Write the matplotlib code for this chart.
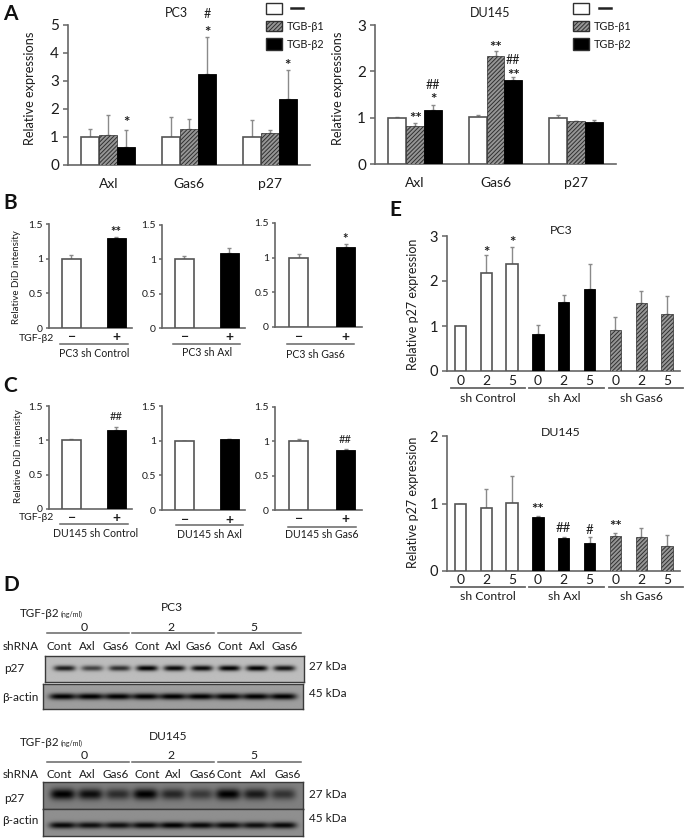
import numpy as np
import matplotlib
matplotlib.use("Agg")
from matplotlib import pyplot as plt
from matplotlib.patches import Rectangle
from matplotlib.lines import Line2D

W, H = 685, 838
plt.rcParams['font.family'] = ['Lato', 'DejaVu Sans']
plt.rcParams['hatch.linewidth'] = 0.7
TXT = '#1c1c1c'
AXC = '#666666'
WHITE_EDGE = '#555555'
HATCH_FC = '#969696'

# panel A
genes = ['Axl', 'Gas6', 'p27']
pc3_none = [1.0, 1.0, 1.0]
pc3_none_err = [0.27, 0.73, 0.62]
pc3_b1 = [1.08, 1.27, 1.13]
pc3_b1_err = [0.70, 0.38, 0.12]
pc3_b2 = [0.63, 3.25, 2.36]
pc3_b2_err = [0.62, 1.32, 1.05]
du_none = [1.0, 1.02, 1.0]
du_none_err = [0.01, 0.03, 0.06]
du_b1 = [0.82, 2.33, 0.92]
du_b1_err = [0.06, 0.10, 0.01]
du_b2 = [1.17, 1.82, 0.90]
du_b2_err = [0.10, 0.05, 0.04]

# panel B, C  (minus, plus)
b_names = ['PC3 sh Control', 'PC3 sh Axl', 'PC3 sh Gas6']
b_vals = [[1.0, 1.30], [1.0, 1.09], [1.0, 1.15]]
b_errs = [[0.05, 0.01], [0.05, 0.07], [0.05, 0.04]]
c_names = ['DU145 sh Control', 'DU145 sh Axl', 'DU145 sh Gas6']
c_vals = [[1.0, 1.15], [1.0, 1.02], [1.0, 0.88]]
c_errs = [[0.02, 0.04], [0.0, 0.0], [0.04, 0.01]]

# panel E
doses = ['0', '2', '5'] * 3
groups = ['sh Control', 'sh Axl', 'sh Gas6']
e_pc3 = [1.0, 2.18, 2.38, 0.82, 1.53, 1.83, 0.90, 1.50, 1.26]
e_pc3_err = [0.0, 0.40, 0.38, 0.20, 0.16, 0.55, 0.29, 0.28, 0.40]
e_du = [1.0, 0.94, 1.01, 0.80, 0.49, 0.41, 0.52, 0.51, 0.37]
e_du_err = [0.0, 0.28, 0.40, 0.01, 0.02, 0.09, 0.05, 0.13, 0.16]

# panel D, band strength per lane
lanes = ['Cont', 'Axl', 'Gas6'] * 3
pc3_p27_band = [0.85, 0.65, 0.75, 1.0, 0.95, 0.95, 1.0, 1.0, 0.9]
pc3_act_band = [1.0, 1.0, 1.0, 1.0, 1.0, 1.0, 1.0, 1.0, 1.0]
du_p27_band = [1.0, 0.9, 0.65, 1.0, 0.7, 0.55, 1.0, 0.8, 0.6]
du_act_band = [0.95, 0.9, 0.9, 0.95, 1.0, 0.95, 0.95, 0.9, 0.95]

fig = plt.figure(figsize=(W / 100, H / 100), dpi=100, facecolor='white')


def make_ax(x0, x1, y0, y1):
    # pixel box from the top left corner of the picture
    ax = fig.add_axes([x0 / W, 1 - y0 / H, (x1 - x0) / W, (y0 - y1) / H])
    ax.patch.set_alpha(0)
    for s in ['top', 'right']:
        ax.spines[s].set_visible(False)
    for s in ['left', 'bottom']:
        ax.spines[s].set_color(AXC)
        ax.spines[s].set_linewidth(1.2)
    ax.tick_params(axis='y', color=AXC, width=1.1, length=3.5, pad=3, labelcolor=TXT)
    ax.set_xticks([])
    return ax


def txt(x, y, s, size=9, ha='center', va='center', **kw):
    kw.setdefault('color', TXT)
    return fig.text(x / W, 1 - y / H, s, fontsize=size, ha=ha, va=va, **kw)


def letter(x, y, s):
    fig.text(x / W, 1 - y / H, s, fontsize=15, fontweight='bold', color='#111111', ha='left', va='center')


def hline(x0, x1, y, color=AXC, lw=1.1):
    fig.add_artist(Line2D([x0 / W, x1 / W], [1 - y / H, 1 - y / H], color=color, lw=lw))


def mark(ax, x, y, s, star_size, hash_size):
    # significance marks, stars are bold in the figure and hashes are not
    if '*' in s:
        ax.text(x, y, s, ha='center', va='center', fontsize=star_size, fontweight='bold', color=TXT, clip_on=False)
    else:
        ax.text(x, y, s, ha='center', va='center', fontsize=hash_size, color=TXT, clip_on=False)


def bars(ax, x, vals, errs, style, width):
    if style == 'white':
        kw = dict(facecolor='white', edgecolor=WHITE_EDGE, linewidth=1.2)
    elif style == 'black':
        kw = dict(facecolor='black', edgecolor='black', linewidth=0.6)
    else:
        kw = dict(facecolor=HATCH_FC, edgecolor='#303030', hatch='////////', linewidth=0.5)
    ax.bar(x, vals, width, zorder=3, **kw)
    ax.errorbar(x, vals, yerr=[np.zeros(len(vals)), errs], fmt='none', ecolor='#8a8a8a',
                elinewidth=1.0, capsize=1.6, capthick=1.0, zorder=2)


# A
def panel_a(box, title, title_x, ymax, sets, marks):
    ax = make_ax(*box)
    x = np.arange(3)
    w = 0.223
    styles = ['white', 'hatch', 'black']
    for i, (v, e) in enumerate(sets):
        bars(ax, x + (i - 1) * w, v, e, styles[i], w)
    ax.set_xlim(-0.5, 2.5)
    ax.set_ylim(0, ymax)
    ax.set_yticks(range(ymax + 1))
    ax.tick_params(axis='y', labelsize=11)
    for g, s, y in marks:
        mark(ax, g, y, s, 11, 9)
    for i, g in enumerate(genes):
        ax.text(i, -0.137 * ymax, g, ha='center', va='center', fontsize=10, color=TXT)
    txt(title_x, 13, title, size=9)


panel_a((68, 310, 165, 25), 'PC3', 176, 5,
        [(pc3_none, pc3_none_err), (pc3_b1, pc3_b1_err), (pc3_b2, pc3_b2_err)],
        [(0.223, '*', 1.5), (1.223, '#', 5.4), (1.223, '*', 4.7), (2.223, '*', 3.55)])
panel_a((375, 616, 164, 25), 'DU145', 490, 3,
        [(du_none, du_none_err), (du_b1, du_b1_err), (du_b2, du_b2_err)],
        [(0, '**', 0.97), (0.223, '##', 1.7), (0.223, '*', 1.38),
         (1, '**', 2.5), (1.223, '##', 2.24), (1.223, '**', 1.91)])

letter(3, 14, 'A')
txt(30, 88, 'Relative expressions', size=9.2, rotation=90)
txt(338, 88, 'Relative expressions', size=9.2, rotation=90)


def legend_a(x0, x1, xt, xd):
    tops = [(3, 14), (21, 31), (38, 50)]
    fc = ['white', HATCH_FC, 'black']
    for (t, b), c in zip(tops, fc):
        hatch = '////////' if c == HATCH_FC else None
        fig.add_artist(Rectangle((x0 / W, 1 - b / H), (x1 - x0) / W, (b - t) / H,
                                 transform=fig.transFigure, facecolor=c, edgecolor='#303030',
                                 hatch=hatch, linewidth=1.0))
    hline(xd - 6, xd + 6, 8, color='#222222', lw=1.8)
    txt(xt, 27, 'TGB-β1', size=7.8, ha='left')
    txt(xt, 44, 'TGB-β2', size=7.8, ha='left')


legend_a(266, 282, 287, 297)
legend_a(573, 589, 594, 605)


# B and C
def small_panel(box, vals, errs, marks, name, name_x, name_y, line, mark_y):
    ax = make_ax(*box)
    bars(ax, [0], [vals[0]], [errs[0]], 'white', 0.42)
    bars(ax, [1], [vals[1]], [errs[1]], 'black', 0.42)
    ax.set_xlim(-0.5, 1.35)
    ax.set_ylim(0, 1.5)
    ax.set_yticks([0, 0.5, 1, 1.5])
    ax.set_yticklabels(['0', '0.5', '1', '1.5'])
    ax.tick_params(axis='y', labelsize=7.5, length=2.5, pad=2)
    for x, s, y in marks:
        mark(ax, x, y, s, 9.5, 8)
    for i, s in enumerate(['−', '+']):
        px = box[0] + (i + 0.5) / 1.85 * (box[1] - box[0])
        txt(px, mark_y, s, size=10, fontweight='bold')
    hline(line[0], line[1], line[2])
    txt(name_x, name_y, name, size=7.6)


small_panel((49, 132, 328, 224), b_vals[0], b_errs[0], [(1, '**', 1.39)],
            b_names[0], 94, 353, (60, 128, 344), 337)
small_panel((162, 245, 328, 225), b_vals[1], b_errs[1], [],
            b_names[1], 207, 352, (173, 240, 344), 337)
small_panel((275, 362, 327, 223), b_vals[2], b_errs[2], [(1, '*', 1.27)],
            b_names[2], 315, 354, (287, 354, 344), 337)
small_panel((49, 132, 509, 406), c_vals[0], c_errs[0], [(1, '##', 1.34)],
            c_names[0], 96, 533, (60, 128, 524), 518)
small_panel((162, 245, 510, 406), c_vals[1], c_errs[1], [],
            c_names[1], 209, 534, (176, 243, 525), 520)
small_panel((275, 362, 510, 407), c_vals[2], c_errs[2], [(1, '##', 1.02)],
            c_names[2], 322, 535, (288, 356, 527), 519)

letter(3, 203, 'B')
letter(3, 386, 'C')
txt(17, 277, 'Relative DiD intensity', size=7, rotation=90)
txt(19, 456, 'Relative DiD intensity', size=7, rotation=90)
txt(36, 338, 'TGF-β2', size=7.5)
txt(36, 518, 'TGF-β2', size=7.5)


# E
def panel_e(y0, y1, vals, errs, ymax, marks, title, title_y, tick_y, line_y, group_y):
    ax = make_ax(447, 680, y0, y1)
    x = np.arange(9)
    styles = ['white'] * 3 + ['black'] * 3 + ['hatch'] * 3
    for i in x:
        bars(ax, [i], [vals[i]], [errs[i]], styles[i], 0.44)
    ax.set_xlim(-0.52, 8.5)
    ax.set_ylim(0, ymax)
    ax.set_yticks(range(ymax + 1))
    ax.tick_params(axis='y', labelsize=10.5)
    for i, m, y in marks:
        mark(ax, i, y, m, 11, 9.5)
    step = 233 / 9.02
    for i, d in enumerate(doses):
        txt(447 + (i + 0.52) * step, tick_y, d, size=10)
    for (a, b), g, c in zip([(451, 525), (529, 604), (609, 683)], groups, [488, 564, 641]):
        hline(a, b, line_y, lw=1.3)
        txt(c, group_y, g, size=8.8)
    txt(561, title_y, title, size=8.8)


panel_e(371, 236, e_pc3, e_pc3_err, 3, [(1, '*', 2.63), (2, '*', 2.85)],
        'PC3', 231, 381, 388, 398)
panel_e(571, 436, e_du, e_du_err, 2,
        [(3, '**', 0.9), (4, '##', 0.64), (5, '#', 0.60), (6, '**', 0.65)],
        'DU145', 432, 580, 587, 597)
letter(389, 210, 'E')
txt(413, 304, 'Relative p27 expression', size=9, rotation=90)
txt(413, 502, 'Relative p27 expression', size=9, rotation=90)


# D
def blot(box, strengths, bg, band_y, band_h, band_w):
    x0, x1, y0, y1 = box
    ny, nx = 60, 400
    yy, xx = np.mgrid[0:1:ny * 1j, 0:1:nx * 1j]
    centres = np.linspace(0.075, 0.925, 9)
    img = np.full((ny, nx), bg)
    for c, s in zip(centres, strengths):
        band = s * np.exp(-((yy - band_y) / band_h) ** 2) * np.exp(-((xx - c) / band_w) ** 4)
        img = img - band * bg
    ax = fig.add_axes([x0 / W, 1 - y1 / H, (x1 - x0) / W, (y1 - y0) / H])
    ax.imshow(np.clip(img, 0, 1), cmap='gray', vmin=0, vmax=1, aspect='auto')
    ax.set_xticks([])
    ax.set_yticks([])
    for s in ax.spines.values():
        s.set_color('#3a3a3a')
        s.set_linewidth(1.0)


blot((45, 304, 656, 682), pc3_p27_band, 0.74, 0.47, 0.11, 0.042)
blot((43, 303, 684, 709), pc3_act_band, 0.62, 0.5, 0.13, 0.052)
blot((43, 303, 782, 809), du_p27_band, 0.50, 0.47, 0.2, 0.048)
blot((43, 303, 809, 836), du_act_band, 0.56, 0.62, 0.12, 0.052)

letter(3, 585, 'D')


def blot_text(title, title_x, title_y, tgf_y, dose_y, line_y, sh_y, p27_y, act_y, k27_y, k45_y, centres):
    txt(title_x, title_y, title, size=8.6)
    txt(20, tgf_y, 'TGF-β2', size=8.4, ha='left')
    txt(61, tgf_y + 1, '(ng/ml)', size=5, ha='left')
    for d, c, (a, b) in zip(['0', '2', '5'], [84, 171, 254], [(47, 129), (132, 214), (218, 301)]):
        txt(c, dose_y, d, size=8.8)
        hline(a, b, line_y, lw=1.1)
    txt(3, sh_y, 'shRNA', size=8.5, ha='left')
    for c, s in zip(centres, lanes):
        txt(c, sh_y, s, size=8.5)
    txt(4, p27_y, 'p27', size=8.5, ha='left')
    txt(2, act_y, 'β-actin', size=8.5, ha='left')
    txt(309, k27_y, '27 kDa', size=8.5, ha='left')
    txt(309, k45_y, '45 kDa', size=8.5, ha='left')


blot_text('PC3', 172, 607, 613, 627, 633, 646, 669, 697, 666, 693,
          [59, 87, 116, 147, 173, 199, 230, 257, 285])
blot_text('DU145', 168, 736, 742, 755, 762, 774, 798, 820, 794, 818,
          [59, 87, 116, 147, 173, 203, 229, 258, 288])

fig.savefig('out.png', dpi=100, facecolor='white')
